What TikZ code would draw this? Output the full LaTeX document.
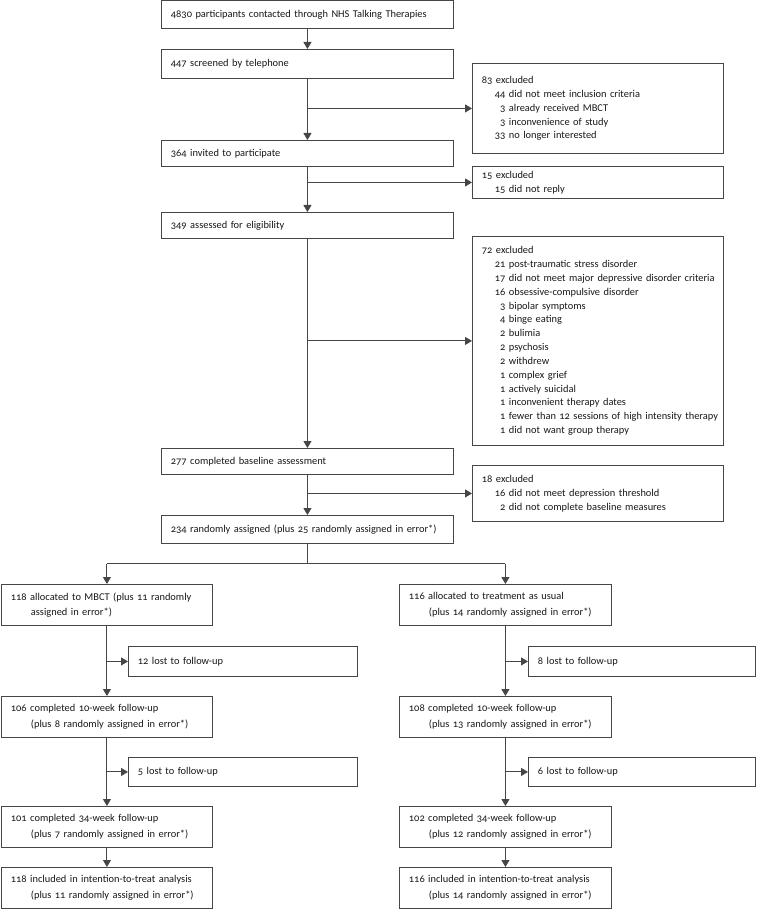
\documentclass[tikz,border=0pt]{standalone}
\usepackage{fontspec}
\setmainfont{Carlito}[Numbers=OldStyle]
\usetikzlibrary{arrows.meta}
\definecolor{lc}{RGB}{70,70,70}
\definecolor{tc}{RGB}{25,22,23}
\newcommand\itm[2]{\mbox{\hspace*{12.5pt}\makebox[11pt][r]{#1}\ #2}}
\newcommand\hng{\hspace*{20pt}}
\tikzset{
  fbox/.style={draw=lc, line width=0.9pt, anchor=north west, inner xsep=9.5pt, inner ysep=0pt,
     align=left, text=tc, font=\fontsize{10.4}{15.5}\selectfont},
  xbox/.style={fbox, font=\fontsize{10.4}{13.85}\selectfont},
  conn/.style={draw=lc, line width=1pt},
  arr/.style={conn, -{Triangle[length=7pt,width=8pt]}},
}
\newcommand\bx[7]{% name, x, y, w, h, style, text
  \node[#6, minimum width=#4pt, minimum height=#5pt, text width=#4pt-19pt] (#1) at (#2,#3) {#7};}
\begin{document}
\begin{tikzpicture}[x=1pt,y=-1pt]
\useasboundingbox (0,0) rectangle (756,909);
% main column
\bx{b1}{161}{0.5}{292}{28}{fbox}{4830 participants contacted through NHS Talking Therapies}
\bx{b2}{161}{49}{292}{29}{fbox}{447 screened by telephone}
\bx{b3}{161}{140}{292}{26}{fbox}{364 invited to participate}
\bx{b4}{161}{212}{292}{26}{fbox}{349 assessed for eligibility}
\bx{b5}{161}{448}{292}{26}{fbox}{277 completed baseline assessment}
\bx{b6}{161}{515}{292}{28}{fbox}{\mbox{234 randomly assigned (plus 25 randomly assigned in error*)}}
% exclusion boxes
\bx{e1}{472}{63}{251}{90}{xbox}{83 excluded\\
\itm{44}{did not meet inclusion criteria}\\
\itm{3}{already received MBCT}\\
\itm{3}{inconvenience of study}\\
\itm{33}{no longer interested}}
\bx{e2}{472}{166}{251}{32}{xbox}{15 excluded\\
\itm{15}{did not reply}}
\bx{e3}{472}{236}{251}{209}{xbox}{72 excluded\\
\itm{21}{post-traumatic stress disorder}\\
\itm{17}{did not meet major depressive disorder criteria}\\
\itm{16}{obsessive-compulsive disorder}\\
\itm{3}{bipolar symptoms}\\
\itm{4}{binge eating}\\
\itm{2}{bulimia}\\
\itm{2}{psychosis}\\
\itm{2}{withdrew}\\
\itm{1}{complex grief}\\
\itm{1}{actively suicidal}\\
\itm{1}{inconvenient therapy dates}\\
\itm{1}{fewer than 12 sessions of high intensity therapy}\\
\itm{1}{did not want group therapy}}
\bx{e4}{472}{465}{251}{56}{xbox}{18 excluded\\
\itm{16}{did not meet depression threshold}\\
\itm{2}{did not complete baseline measures}}
% arms
\bx{m1}{1}{584}{211}{41}{fbox}{118 allocated to MBCT (plus 11 randomly\\\hng assigned in error*)}
\bx{t1}{399}{584}{212}{41}{fbox}{116 allocated to treatment as usual\\\hng(plus 14 randomly assigned in error*)}
\bx{ml1}{128}{646}{229}{30}{fbox}{12 lost to follow-up}
\bx{tl1}{528}{646}{227}{30}{fbox}{8 lost to follow-up}
\bx{m2}{1}{696}{211}{41}{fbox}{106 completed 10-week follow-up\\\hng(plus 8 randomly assigned in error*)}
\bx{t2}{399}{696}{212}{41}{fbox}{108 completed 10-week follow-up\\\hng(plus 13 randomly assigned in error*)}
\bx{ml2}{128}{757}{229}{29}{fbox}{5 lost to follow-up}
\bx{tl2}{528}{757}{227}{29}{fbox}{6 lost to follow-up}
\bx{m3}{1}{806}{211}{41}{fbox}{101 completed 34-week follow-up\\\hng(plus 7 randomly assigned in error*)}
\bx{t3}{399}{806}{212}{41}{fbox}{102 completed 34-week follow-up\\\hng(plus 12 randomly assigned in error*)}
\bx{m4}{1}{867}{211}{41}{fbox}{118 included in intention-to-treat analysis\\\hng(plus 11 randomly assigned in error*)}
\bx{t4}{399}{867}{212}{41}{fbox}{116 included in intention-to-treat analysis\\\hng(plus 14 randomly assigned in error*)}
% connectors main column
\draw[arr] (b1.south) -- (b2.north);
\draw[arr] (b2.south) -- (b3.north);
\draw[arr] (b2.south |- e1.west) coordinate (j1) -- (e1.west);
\draw[arr] (b3.south) -- (b4.north);
\draw[arr] (b3.south |- e2.west) coordinate (j2) -- (e2.west);
\draw[arr] (b4.south) -- (b5.north);
\draw[arr] (b4.south |- e3.west) coordinate (j3) -- (e3.west);
\draw[arr] (b5.south) -- (b6.north);
\draw[arr] (b5.south |- e4.west) coordinate (j4) -- (e4.west);
% split
\draw[conn] (b6.south) -- ++(0,20) coordinate (sp);
\draw[conn] (m1.north |- sp) coordinate (spl) -- (t1.north |- sp) coordinate (spr);
\draw[arr] (spl) -- (m1.north);
\draw[arr] (spr) -- (t1.north);
% arms
\draw[arr] (m1.south) -- (m2.north);
\draw[arr] (m1.south |- ml1.west) coordinate (k1) -- (ml1.west);
\draw[arr] (m2.south) -- (m3.north);
\draw[arr] (m2.south |- ml2.west) coordinate (k2) -- (ml2.west);
\draw[arr] (m3.south) -- (m4.north);
\draw[arr] (t1.south) -- (t2.north);
\draw[arr] (t1.south |- tl1.west) coordinate (k3) -- (tl1.west);
\draw[arr] (t2.south) -- (t3.north);
\draw[arr] (t2.south |- tl2.west) coordinate (k4) -- (tl2.west);
\draw[arr] (t3.south) -- (t4.north);
\end{tikzpicture}
\end{document}
